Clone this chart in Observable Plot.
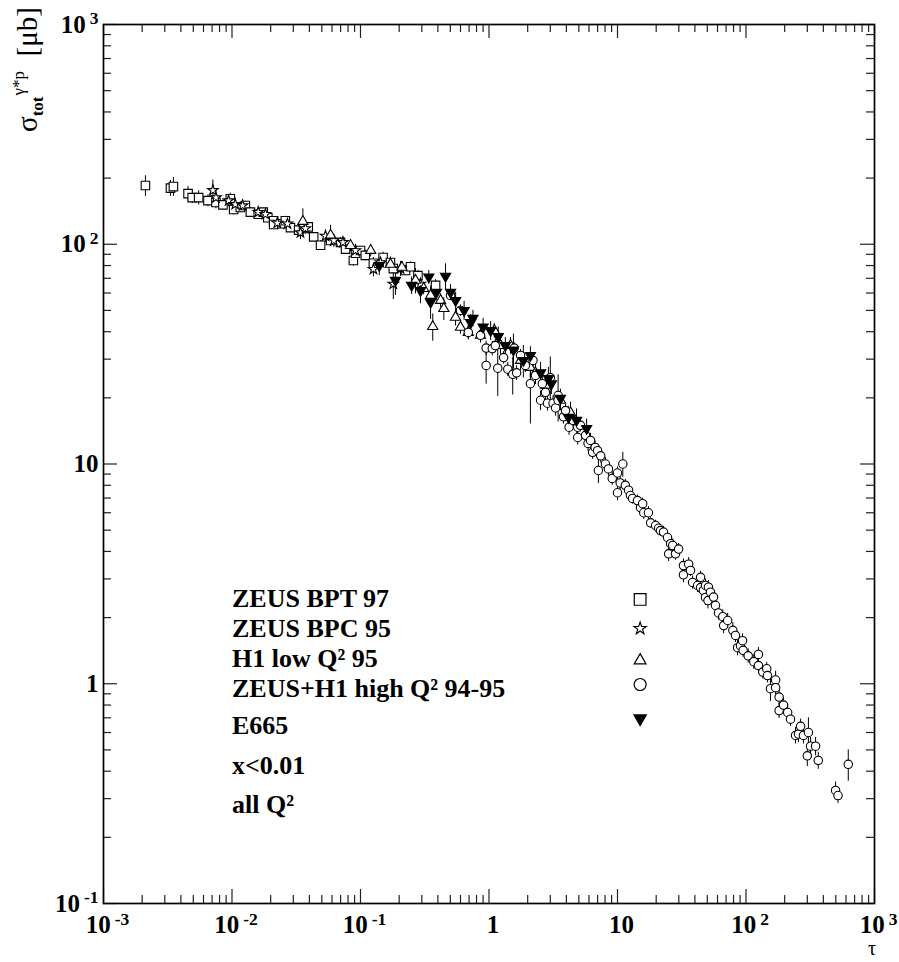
<!DOCTYPE html>
<html><head><meta charset="utf-8">
<script src="https://cdn.jsdelivr.net/npm/d3@7"></script>
<script src="https://cdn.jsdelivr.net/npm/@observablehq/plot@0.6"></script>
<style>body{margin:0;background:#fff} svg{display:block}</style>
</head><body><div id="chart"></div>
<script>
// ---------------- data ----------------
const xTickValues = [1e-3, 1e-2, 1e-1, 1, 10, 100, 1000];
const xTickLabels = ["10^-3", "10^-2", "10^-1", "1", "10", "10^2", "10^3"];
const yTickValues = [0.1, 1, 10, 100, 1000];
const yTickLabels = ["10^-1", "1", "10", "10^2", "10^3"];

const legendLabels = ["ZEUS BPT 97", "ZEUS BPC 95", "H1 low Q² 95", "ZEUS+H1 high Q² 94-95", "E665", "x<0.01", "all Q²"];
const legendSymbols = ["square", "star", "triangle", "circle", "triangleDown"];

// [tau, sigma (µb), error]
const zeusBPT97 = [[0.00212,185,20],[0.00332,180,15],[0.0035,183,18],[0.00455,170,13],[0.0049,163,10],[0.0055,163,12],[0.0065,158,10],[0.0075,155,10],[0.0085,151,8],[0.0097,161,10],[0.0103,144,8],[0.0116,147,8],[0.0127,150,7],[0.0139,140,7],[0.016,137,7],[0.0175,140,6],[0.019,132,6],[0.0211,128,6],[0.0211,123,6],[0.0245,124,6],[0.026,128,6],[0.0285,119,5],[0.033,116,5],[0.036,118,5],[0.0392,120,5],[0.0432,108,5],[0.0489,99,5],[0.0585,104,5],[0.0699,102,5],[0.0765,95,5],[0.088,84.4,5],[0.0915,91,5],[0.1,93.7,4],[0.109,89,5],[0.126,82,5],[0.15,87,5],[0.171,82.6,5],[0.18,77.5,4],[0.224,76,4],[0.245,79,4],[0.28,72,4],[0.384,65,4]];
const zeusBPC95 = [[0.0071,176,20],[0.0075,163,12],[0.0094,158,10],[0.0106,152,9],[0.0121,150,9],[0.016,140,8],[0.0182,137,8],[0.0225,125,8],[0.027,124,8],[0.0341,113,8],[0.0373,118,7],[0.0534,109,7],[0.062,104,7],[0.073,102,6],[0.0915,93.7,6],[0.126,77,6],[0.143,82.6,6],[0.18,66,10],[0.205,77.5,6],[0.293,66,5]];
const h1LowQ2 = [[0.0356,127,18],[0.0585,110,12],[0.0836,98.7,6],[0.12,93.7,6],[0.171,81,5],[0.21,78.5,5],[0.268,68.5,9],[0.31,62.9,4],[0.351,58.5,6],[0.365,42.2,6],[0.42,55.5,4],[0.445,51,6],[0.549,46.5,4],[0.6,41.9,3],[0.69,39.7,3],[0.859,38.5,3],[1.1,40.5,3],[1.23,34.6,3],[1.47,34.6,3],[1.76,29.6,3],[2.1,27.5,3],[2.3,26,3],[2.75,22.8,2.5],[3.6,19.5,2],[4.31,17.1,2]];
const zeusH1HighQ2 = [[0.502,58.5,3],[0.6,50,3],[0.69,39.7,2.5],[0.86,38.5,2.5],[0.95,33.7,2.5],[1.06,33.5,2.5],[0.95,28.1,5],[1.12,34.6,2.5],[1.17,27.3,7],[1.3,30.5,2],[1.4,27,2],[1.53,25.6,5],[1.57,33.7,2],[1.64,26,2],[1.76,31.2,2],[1.92,28.1,2],[2.1,23.2,8],[2.2,29.6,2],[2.3,25.3,2],[2.52,19.5,2],[2.6,23.2,2],[2.75,21.2,2],[2.85,18.9,1.5],[3.0,24.7,6],[3.15,18.9,1.5],[3.3,18,1.5],[3.45,20.5,5],[3.45,19.5,1.5],[3.8,16.4,1.2],[3.94,17.5,1.2],[4.2,14.7,1.2],[4.5,15.8,1.2],[4.9,14.7,1],[4.9,13.2,1],[5.15,15,1],[5.64,13.5,1],[5.9,12.4,1],[6.17,12.8,1],[6.4,11.3,0.8],[6.7,11.9,0.8],[7.0,11.5,0.8],[7.1,9.34,1.2],[7.4,10.9,0.8],[8.06,10.0,0.7],[8.5,9.5,0.7],[9.1,8.6,0.6],[10.0,9.1,0.6],[10.0,7.4,0.6],[10.5,8.2,0.6],[11.0,10.0,1.3],[11.5,8.0,0.5],[12.2,7.6,0.5],[12.6,7.19,0.5],[13.1,6.97,0.4],[14.3,6.82,0.4],[15.1,6.33,0.4],[15.7,6.6,0.4],[16.0,6.0,0.4],[17.4,6.0,0.4],[18.1,5.4,0.3],[19.8,5.25,0.3],[20.9,5.1,0.3],[21.6,4.98,0.3],[22.8,4.9,0.3],[24.5,4.63,0.3],[25.0,3.9,0.3],[25.9,4.34,0.3],[26.9,4.26,0.3],[28.3,3.9,0.25],[29.9,4.1,0.25],[32.6,3.45,0.25],[32.6,3.13,0.25],[35.8,3.5,0.25],[37.0,3.28,0.2],[38.4,2.89,0.2],[42,2.8,0.2],[44.3,3.05,0.2],[44.3,2.74,0.2],[46.6,2.66,0.2],[48.4,2.8,0.2],[48.4,2.47,0.2],[50.6,2.39,0.2],[51,2.75,0.2],[52.9,2.61,0.2],[55.9,2.48,0.2],[57.9,2.27,0.15],[61,2.1,0.15],[66,2.02,0.15],[67,1.84,0.15],[72,1.94,0.15],[79,1.75,0.15],[82.8,1.66,0.12],[86,1.46,0.12],[90.6,1.49,0.12],[94,1.57,0.12],[95,1.42,0.1],[104,1.34,0.1],[115,1.26,0.1],[125,1.36,0.1],[125,1.21,0.1],[135,1.13,0.08],[145,1.17,0.08],[147,1.09,0.08],[155,0.95,0.12],[170,1.04,0.1],[170,0.96,0.07],[181,0.87,0.07],[181,0.755,0.06],[196,0.8,0.06],[211,0.74,0.06],[222,0.69,0.05],[243,0.582,0.05],[256,0.59,0.05],[266,0.64,0.05],[280,0.582,0.05],[300,0.47,0.05],[306,0.6,0.1],[318,0.52,0.05],[348,0.52,0.05],[365,0.448,0.04],[498,0.327,0.03],[520,0.31,0.025],[625,0.43,0.07]];
const e665 = [[0.14,80,8],[0.187,68.5,10],[0.25,65,6],[0.293,61.6,8],[0.34,71,5],[0.351,54.5,9],[0.39,60.5,5],[0.459,71.5,10],[0.502,60.5,5],[0.55,55.5,5],[0.64,50,5],[0.72,44,4],[0.75,46,4],[0.9,42,4],[1.03,40.5,4],[1.18,38,4],[1.34,34.6,3],[1.55,33,6],[1.85,29.6,5],[2.1,31.2,3],[2.52,26,3],[2.9,24.5,3],[3.06,23.2,2.5],[3.6,19.9,2],[4.15,16.3,2],[4.8,15.8,2],[5.75,14.5,1.5]];

// ---------------- layout ----------------
const FONT = "Liberation Serif, Times New Roman, serif";
const W = 899, H = 962, mL = 103, mR = 25, mT = 24, mB = 59;
const fW = W - mL - mR, fH = H - mT - mB;
const legendTextX = 0.01, legendSymX = 15;
const legendRowY = [2.44, 1.784, 1.303, 0.951, 0.645, 0.425, 0.282];
const legendSymY = [2.42, 1.784, 1.276, 0.992, 0.695];

const xMinor = d3.range(-3, 3).flatMap(e => d3.range(2, 10).map(m => +(m * Math.pow(10, e)).toPrecision(3)));
const yMinor = d3.range(-1, 3).flatMap(e => d3.range(2, 10).map(m => +(m * Math.pow(10, e)).toPrecision(3)));

const allPts = [...zeusBPT97, ...zeusBPC95, ...h1LowQ2, ...e665, ...zeusH1HighQ2];
const tickStyle = {stroke: "#222", strokeWidth: 1.2};
const X = d => d[0], Y = d => d[1];
const sym = (data, symbol, r, extra = {}) => Plot.dot(data, {x: X, y: Y, symbol, r, stroke: "#000", fill: "#fff", strokeWidth: 1.1, ...extra});

const plot = Plot.plot({
  width: W, height: H,
  marginLeft: mL, marginRight: mR, marginTop: mT, marginBottom: mB,
  style: {fontFamily: FONT, background: "#fff", color: "#000"},
  x: {type: "log", domain: [1e-3, 1e3]},
  y: {type: "log", domain: [1e-1, 1e3]},
  marks: [
    // inward ticks
    Plot.tickX(xTickValues, {x: d => d, insetTop: fH - 14, ...tickStyle}),
    Plot.tickX(xMinor, {x: d => d, insetTop: fH - 8, ...tickStyle}),
    Plot.tickX(xTickValues, {x: d => d, insetBottom: fH - 14, ...tickStyle}),
    Plot.tickX(xMinor, {x: d => d, insetBottom: fH - 8, ...tickStyle}),
    Plot.tickY(yTickValues, {y: d => d, insetRight: fW - 14, ...tickStyle}),
    Plot.tickY(yMinor, {y: d => d, insetRight: fW - 8, ...tickStyle}),
    Plot.tickY(yTickValues, {y: d => d, insetLeft: fW - 14, ...tickStyle}),
    Plot.tickY(yMinor, {y: d => d, insetLeft: fW - 8, ...tickStyle}),
    Plot.frame({stroke: "#000", strokeWidth: 1.7}),
    Plot.axisX(xTickValues, {anchor: "bottom", tickSize: 0, tickPadding: 12, label: null,
      tickFormat: d => xTickLabels[xTickValues.indexOf(d)], fontSize: 25, fontWeight: "bold", fontFamily: FONT, dx: 4}),
    Plot.axisY(yTickValues, {anchor: "left", tickSize: 0, tickPadding: 5, label: null,
      tickFormat: d => yTickLabels[yTickValues.indexOf(d)], fontSize: 25, fontWeight: "bold", fontFamily: FONT}),
    // error bars
    Plot.ruleX(allPts, {x: X, y1: d => d[1] - d[2], y2: d => d[1] + d[2], stroke: "#000", strokeWidth: 1}),
    // data points
    sym(zeusBPT97, "square", 4.8),
    sym(zeusBPC95, "star", 3.3),
    sym(h1LowQ2, "triangle", 3.8),
    sym(zeusH1HighQ2, "circle", 4.2),
    sym(e665, "triangle", 3.8, {rotate: 180, fill: "#000"}),
    // legend
    Plot.text(legendLabels, {x: () => legendTextX, y: (d, i) => legendRowY[i], text: d => d, textAnchor: "start",
      fontSize: 26, fontWeight: "bold", fontFamily: FONT, fill: "#000"}),
    Plot.dot([legendSymbols[0]], {x: () => legendSymX, y: () => legendSymY[0], symbol: "square", r: 6.6, stroke: "#000", fill: "#fff", strokeWidth: 1.2}),
    Plot.dot([legendSymbols[1]], {x: () => legendSymX, y: () => legendSymY[1], symbol: "star", r: 3.9, stroke: "#000", fill: "#fff", strokeWidth: 1.1}),
    Plot.dot([legendSymbols[2]], {x: () => legendSymX, y: () => legendSymY[2], symbol: "triangle", r: 4.4, stroke: "#000", fill: "#fff", strokeWidth: 1.2}),
    Plot.dot([legendSymbols[3]], {x: () => legendSymX, y: () => legendSymY[3], symbol: "circle", r: 6, stroke: "#000", fill: "#fff", strokeWidth: 1.2}),
    Plot.dot([legendSymbols[4]], {x: () => legendSymX, y: () => legendSymY[4], symbol: "triangle", r: 4.4, rotate: 180, stroke: "#000", fill: "#000"})
  ]
});
document.getElementById("chart").appendChild(plot);

// superscript exponents on tick labels
const svg = d3.select(plot);
svg.selectAll('g[aria-label="x-axis tick label"] text, g[aria-label="y-axis tick label"] text').each(function() {
  const t = d3.select(this);
  const s = t.text();
  const [base, exp] = s.split("^");
  t.text(null);
  t.append("tspan").text(base);
  if (exp) t.append("tspan").attr("dx", 4).attr("dy", "-0.5em").attr("font-size", "0.7em").text(exp);
});

// axis titles
const yt = svg.append("text").attr("transform", "translate(37,132) rotate(-90)")
  .attr("text-anchor", "start")
  .attr("font-family", FONT).attr("font-size", 29).attr("fill", "#000");
yt.append("tspan").text("σ");
yt.append("tspan").attr("font-size", 17).attr("font-weight", "bold").attr("dy", 6).text("tot");
yt.append("tspan").attr("font-size", 17).attr("dy", -19).attr("dx", 1).text("γ*p");
yt.append("tspan").attr("dy", 13).attr("xml:space", "preserve").text("  [μb]");

svg.append("text").attr("x", 872).attr("y", 955).attr("text-anchor", "middle")
  .attr("font-family", FONT).attr("font-size", 20).attr("fill", "#000").text("τ");
</script>
</body></html>
